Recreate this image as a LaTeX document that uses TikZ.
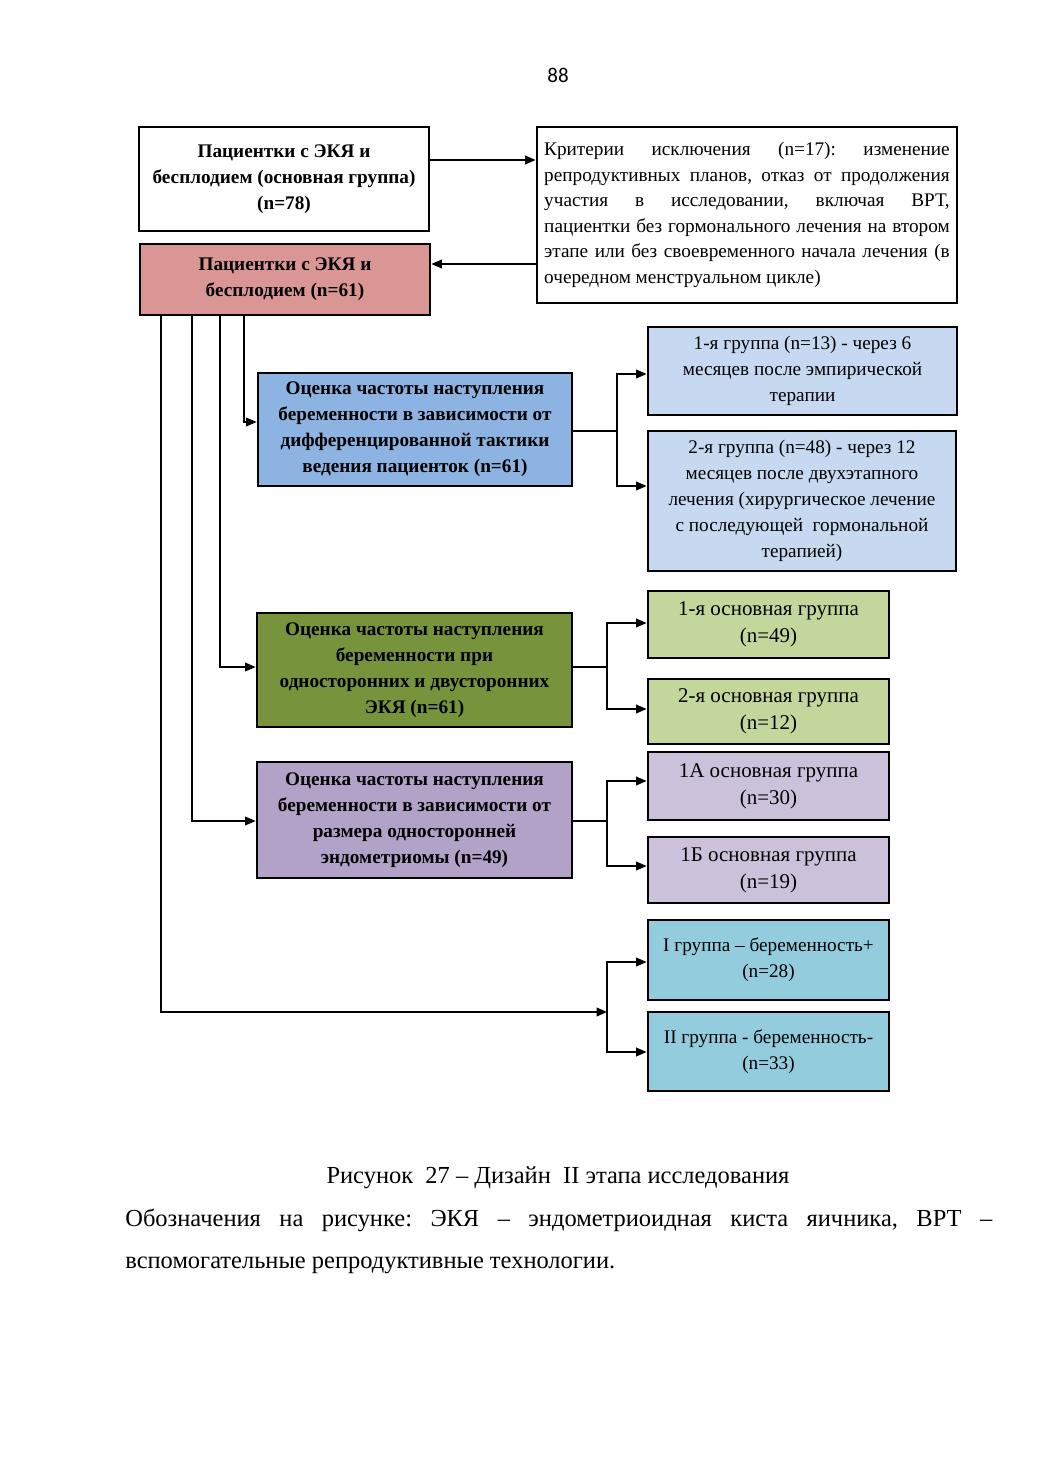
\documentclass[tikz,border=0pt]{standalone}
\usepackage{fontspec}
\setmainfont{Liberation Serif}
\newfontfamily\pagefont{Carlito}
\usepackage{xcolor}
\definecolor{rose}{HTML}{D99694}
\definecolor{skyblue}{HTML}{8DB3E2}
\definecolor{paleblue}{HTML}{C6D9F1}
\definecolor{olive}{HTML}{77933C}
\definecolor{palegreen}{HTML}{C3D69B}
\definecolor{lilac}{HTML}{B2A2C7}
\definecolor{palelilac}{HTML}{CCC1DA}
\definecolor{teal}{HTML}{93CDDD}
\usepackage{tikz}
\usetikzlibrary{positioning,arrows.meta}
\frenchspacing

\tikzset{
  blk/.style={draw, line width=1.6pt, align=center, inner sep=2pt},
  sz/.style 2 args={minimum width=#1*0.5721pt, minimum height=#2*0.5721pt},
  hd/.style={font=\bfseries\fontsize{11}{14.9}\selectfont},
  tx/.style={font=\fontsize{11}{14.9}\selectfont},
  tw/.style={font=\fontsize{12}{15.4}\selectfont},
  arr/.style={-{Triangle[length=6pt,width=5pt]}, line width=.7pt},
  ln/.style={line width=.6pt},
}

\begin{document}
\begin{tikzpicture}[x=0.5721pt,y=-0.5721pt]
\useasboundingbox (0,0) rectangle (1040,1471);

\node[font=\pagefont\fontsize{12}{14}\selectfont] (pnum) at (558,75) {88};

% top part
\node[blk, sz={290}{104}, hd] (pA) at (284,179)
  {Пациентки с ЭКЯ и\\ бесплодием (основная группа)\\ (n=78)};
\node[blk, sz={420}{176}, font=\fontsize{11}{14.6}\selectfont, text width=232pt, align=justify] (crit) at (747,215)
  {Критерии исключения (n=17): изменение\linebreak
   репродуктивных планов, отказ от продолжения\linebreak
   участия в исследовании, включая ВРТ,\linebreak
   пациентки без гормонального лечения на втором\linebreak
   этапе или без своевременного начала лечения (в\linebreak
   очередном менструальном цикле)};
\node[blk, sz={290}{71}, hd, fill=rose] (pC) at (285,279.5)
  {Пациентки с ЭКЯ и\\ бесплодием (n=61)};

\draw[arr] (pA.east |- 0,160) -- (crit.west |- 0,160);
\draw[arr] (crit.west |- 0,264) -- (pC.east |- 0,264);

% evaluation boxes
\node[blk, sz={314}{113}, hd, fill=skyblue] (evD) at (415,429.5)
  {Оценка частоты наступления\\ беременности в зависимости от\\ дифференцированной тактики\\ ведения пациенток (n=61)};
\node[blk, sz={315}{114}, hd, fill=olive] (evF) at (414.5,670)
  {Оценка частоты наступления\\ беременности при\\ односторонних и двусторонних\\ ЭКЯ (n=61)};
\node[blk, sz={315}{116}, hd, fill=lilac] (evH) at (414.5,820)
  {Оценка частоты наступления\\ беременности в зависимости от\\ размера односторонней\\ эндометриомы (n=49)};

% groups
\node[blk, sz={309}{88}, tx, fill=paleblue] (e1) at (802.5,371)
  {1-я группа (n=13) - через 6\\ месяцев после эмпирической\\ терапии};
\node[blk, sz={308}{140}, tx, fill=paleblue] (e2) at (802,501)
  {2-я группа (n=48) - через 12\\ месяцев после двухэтапного\\ лечения (хирургическое лечение\\ с последующей\ \ гормональной\\ терапией)};
\node[blk, sz={241}{67}, tw, fill=palegreen] (g1) at (768.5,624.5)
  {1-я основная группа\\ (n=49)};
\node[blk, sz={241}{65}, tw, fill=palegreen] (g2) at (768.5,711.5)
  {2-я основная группа\\ (n=12)};
\node[blk, sz={241}{68}, tw, fill=palelilac] (i1) at (768.5,786)
  {1А основная группа\\ (n=30)};
\node[blk, sz={241}{66}, tw, fill=palelilac] (i2) at (768.5,870)
  {1Б основная группа\\ (n=19)};
\node[blk, sz={241}{80}, tx, fill=teal] (j1) at (768.5,960)
  {I группа -- беременность+\\ (n=28)};
\node[blk, sz={241}{79}, tx, fill=teal] (j2) at (768.5,1051.5)
  {II группа - беременность-\\ (n=33)};

% lines from the pink box
\draw[arr, ln] (pC.south -| 244,0) |- (evD.west |- 0,422);
\draw[arr, ln] (pC.south -| 220,0) |- (evF.west |- 0,667);
\draw[arr, ln] (pC.south -| 192,0) |- (evH.west |- 0,821);
\coordinate (jbr) at (607,1012);
\draw[arr, line width=1pt] (pC.south -| 161,0) |- (jbr);

% brackets to the groups
\coordinate (dbr) at (617,431);
\draw[ln] (evD.east |- dbr) -- (dbr);
\draw[arr] (dbr) |- (e1.west |- 0,374);
\draw[arr] (dbr) |- (e2.west |- 0,486);
\coordinate (fbr) at (607,667);
\draw[ln] (evF.east |- fbr) -- (fbr);
\draw[arr] (fbr) |- (g1.west |- 0,623);
\draw[arr] (fbr) |- (g2.west |- 0,709);
\coordinate (hbr) at (607,821);
\draw[ln] (evH.east |- hbr) -- (hbr);
\draw[arr] (hbr) |- (i1.west |- 0,781);
\draw[arr] (hbr) |- (i2.west |- 0,866);
\draw[arr] (jbr) |- (j1.west |- 0,962);
\draw[arr] (jbr) |- (j2.west |- 0,1052);

% caption
\node[font=\fontsize{14}{24}\selectfont] (cap) at (558,1178)
  {Рисунок\ \ 27 -- Дизайн\ \ II этапа исследования};
\node[anchor=north west, inner sep=0pt, text width=496pt, align=justify,
      font=\fontsize{14}{24}\selectfont] (note) at (125,1209)
  {Обозначения на рисунке: ЭКЯ -- эндометриоидная киста яичника, ВРТ --\linebreak
   вспомогательные репродуктивные технологии.};

\end{tikzpicture}
\end{document}
